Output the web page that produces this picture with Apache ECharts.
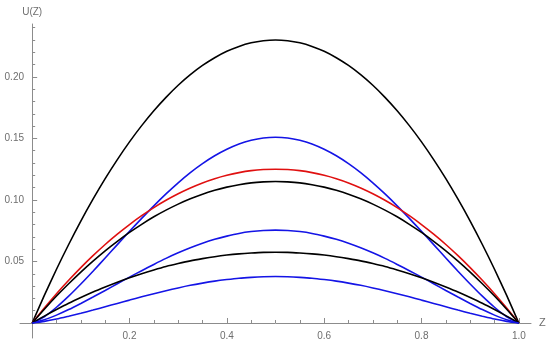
<!DOCTYPE html>
<html><head><meta charset="utf-8">
<script src="https://cdn.jsdelivr.net/npm/echarts@6/dist/echarts.min.js"></script>
<style>html,body{margin:0;padding:0;background:#fff}#c{width:550px;height:348px}</style>
</head><body><div id="c"></div>
<script>
const zValues = [0, 0.025, 0.05, 0.075, 0.1, 0.125, 0.15, 0.175, 0.2, 0.225, 0.25, 0.275, 0.3, 0.325, 0.35, 0.375, 0.4, 0.425, 0.45, 0.475, 0.5,
  0.525, 0.55, 0.575, 0.6, 0.625, 0.65, 0.675, 0.7, 0.725, 0.75, 0.775, 0.8, 0.825, 0.85, 0.875, 0.9, 0.925, 0.95, 0.975, 1.0];
const blackTop = [0, 0.0224, 0.0437, 0.0638, 0.0828, 0.1006, 0.1173, 0.1328, 0.1472, 0.1604, 0.1725, 0.1834, 0.1932, 0.2018, 0.2093, 0.2156, 0.2208, 0.2248, 0.2277, 0.2294, 0.2300,
  0.2294, 0.2277, 0.2248, 0.2208, 0.2156, 0.2093, 0.2018, 0.1932, 0.1834, 0.1725, 0.1604, 0.1472, 0.1328, 0.1173, 0.1006, 0.0828, 0.0638, 0.0437, 0.0224, 0];
const blueTop = [0, 0.0051, 0.0128, 0.0218, 0.0317, 0.0421, 0.0528, 0.0637, 0.0745, 0.0850, 0.0952, 0.1049, 0.1139, 0.1222, 0.1295, 0.1359, 0.1412, 0.1455, 0.1485, 0.1504, 0.1510,
  0.1504, 0.1485, 0.1455, 0.1412, 0.1359, 0.1295, 0.1222, 0.1139, 0.1049, 0.0952, 0.0850, 0.0745, 0.0637, 0.0528, 0.0421, 0.0317, 0.0218, 0.0128, 0.0051, 0];
const redMid = [0, 0.0122, 0.0238, 0.0347, 0.0450, 0.0547, 0.0638, 0.0722, 0.0800, 0.0872, 0.0938, 0.0997, 0.1050, 0.1097, 0.1138, 0.1172, 0.1200, 0.1222, 0.1238, 0.1247, 0.1250,
  0.1247, 0.1238, 0.1222, 0.1200, 0.1172, 0.1138, 0.1097, 0.1050, 0.0997, 0.0938, 0.0872, 0.0800, 0.0722, 0.0638, 0.0547, 0.0450, 0.0347, 0.0238, 0.0122, 0];
const blackMid = [0, 0.0112, 0.0219, 0.0319, 0.0414, 0.0503, 0.0587, 0.0664, 0.0736, 0.0802, 0.0863, 0.0917, 0.0966, 0.1009, 0.1047, 0.1078, 0.1104, 0.1124, 0.1139, 0.1147, 0.1150,
  0.1147, 0.1139, 0.1124, 0.1104, 0.1078, 0.1047, 0.1009, 0.0966, 0.0917, 0.0863, 0.0802, 0.0736, 0.0664, 0.0587, 0.0503, 0.0414, 0.0319, 0.0219, 0.0112, 0];
const blueMid = [0, 0.0026, 0.0064, 0.0109, 0.0159, 0.0211, 0.0264, 0.0319, 0.0373, 0.0425, 0.0476, 0.0525, 0.0570, 0.0611, 0.0648, 0.0680, 0.0706, 0.0728, 0.0743, 0.0752, 0.0755,
  0.0752, 0.0743, 0.0728, 0.0706, 0.0680, 0.0648, 0.0611, 0.0570, 0.0525, 0.0476, 0.0425, 0.0373, 0.0319, 0.0264, 0.0211, 0.0159, 0.0109, 0.0064, 0.0026, 0];
const blackLow = [0, 0.0056, 0.0109, 0.0160, 0.0207, 0.0252, 0.0293, 0.0332, 0.0368, 0.0401, 0.0431, 0.0459, 0.0483, 0.0505, 0.0523, 0.0539, 0.0552, 0.0562, 0.0569, 0.0574, 0.0575,
  0.0574, 0.0569, 0.0562, 0.0552, 0.0539, 0.0523, 0.0505, 0.0483, 0.0459, 0.0431, 0.0401, 0.0368, 0.0332, 0.0293, 0.0252, 0.0207, 0.0160, 0.0109, 0.0056, 0];
const blueLow = [0, 0.0013, 0.0032, 0.0055, 0.0079, 0.0105, 0.0132, 0.0159, 0.0186, 0.0213, 0.0238, 0.0262, 0.0285, 0.0306, 0.0324, 0.0340, 0.0353, 0.0364, 0.0371, 0.0376, 0.0378,
  0.0376, 0.0371, 0.0364, 0.0353, 0.0340, 0.0324, 0.0306, 0.0285, 0.0262, 0.0238, 0.0213, 0.0186, 0.0159, 0.0132, 0.0105, 0.0079, 0.0055, 0.0032, 0.0013, 0];

const xMajorTicks = [0.2, 0.4, 0.6, 0.8, 1.0];
const xMinorTicks = [0.05, 0.1, 0.15, 0.25, 0.3, 0.35, 0.45, 0.5, 0.55, 0.65, 0.7, 0.75, 0.85, 0.9, 0.95];
const yMajorTicks = [0.05, 0.10, 0.15, 0.20];
const yMinorTicks = [0.01, 0.02, 0.03, 0.04, 0.06, 0.07, 0.08, 0.09, 0.11, 0.12, 0.13, 0.14, 0.16, 0.17, 0.18, 0.19, 0.21, 0.22, 0.23, 0.24];

const axisColor = '#8c8c8c';
const labelColor = '#6e6e6e';
const font = 'Liberation Sans, Arial, sans-serif';

function pairs(ys) { return zValues.map((z, i) => [z, ys[i]]); }
function line(name, ys, color) {
  return { name, type: 'line', data: pairs(ys), showSymbol: false, smooth: 0.25,
    lineStyle: { color, width: 1.6 }, itemStyle: { color }, silent: true, animation: false };
}

const chart = echarts.init(document.getElementById('c'), null, { renderer: 'canvas' });
const xRange = { min: -0.025, max: 1.025 };
const yRange = { min: -0.0122, max: 0.243 };
chart.setOption({
  animation: false,
  grid: { left: 20, right: 19, top: 24, bottom: 10, containLabel: false, outerBoundsMode: 'none' },
  xAxis: [
    { type: 'value', ...xRange, position: 'bottom',
      name: 'Z', nameLocation: 'end', nameGap: 8,
      nameTextStyle: { color: labelColor, fontSize: 11, fontFamily: font, verticalAlign: 'middle' },
      axisLine: { show: true, onZero: true, lineStyle: { color: axisColor, width: 1 } },
      axisTick: { show: true, inside: true, length: 5, customValues: xMajorTicks, lineStyle: { color: axisColor } },
      axisLabel: { show: true, customValues: xMajorTicks, color: labelColor, fontSize: 10, fontFamily: font, margin: -7,
        formatter: v => v.toFixed(1) },
      splitLine: { show: false } },
    { type: 'value', ...xRange, position: 'bottom',
      axisLine: { show: false, onZero: true },
      axisTick: { show: true, inside: true, length: 3, customValues: xMinorTicks, lineStyle: { color: axisColor } },
      axisLabel: { show: false }, splitLine: { show: false } }
  ],
  yAxis: [
    { type: 'value', ...yRange, position: 'left',
      name: 'U(Z)', nameLocation: 'end', nameGap: 7,
      nameTextStyle: { color: labelColor, fontSize: 10, fontFamily: font, align: 'center' },
      axisLine: { show: true, onZero: true, lineStyle: { color: axisColor, width: 1 } },
      axisTick: { show: true, inside: true, length: 5, customValues: yMajorTicks, lineStyle: { color: axisColor } },
      axisLabel: { show: true, customValues: yMajorTicks, color: labelColor, fontSize: 10, fontFamily: font, margin: -4,
        formatter: v => v.toFixed(2) },
      splitLine: { show: false } },
    { type: 'value', ...yRange, position: 'left',
      axisLine: { show: false, onZero: true },
      axisTick: { show: true, inside: true, length: 3, customValues: yMinorTicks, lineStyle: { color: axisColor } },
      axisLabel: { show: false }, splitLine: { show: false } }
  ],
  series: [
    line('blackTop', blackTop, '#000000'),
    line('blueTop', blueTop, '#1414e6'),
    line('redMid', redMid, '#e01010'),
    line('blackMid', blackMid, '#000000'),
    line('blueMid', blueMid, '#1414e6'),
    line('blackLow', blackLow, '#000000'),
    line('blueLow', blueLow, '#1414e6')
  ]
});
</script>
</body></html>
